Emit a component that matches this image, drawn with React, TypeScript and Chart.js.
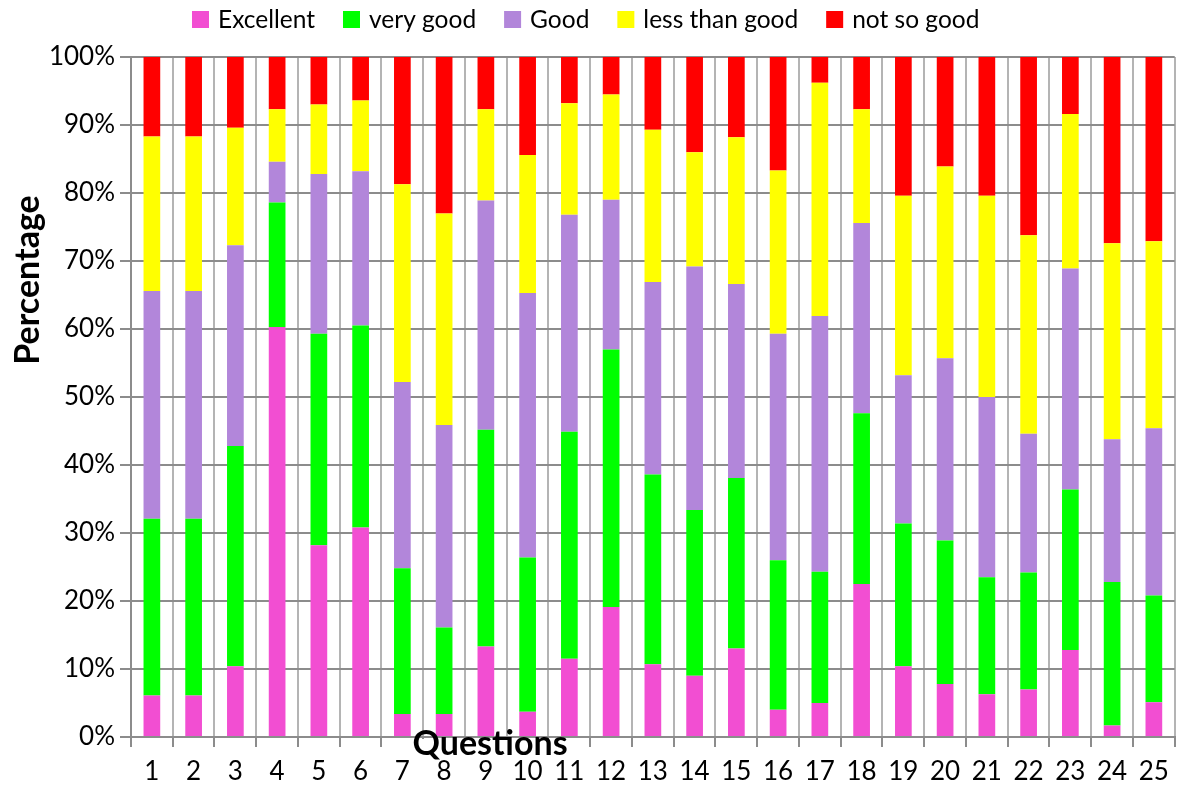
import React, { useEffect, useRef } from "react";
import { Chart, registerables } from "chart.js";

Chart.register(...registerables);

const questions = ["1","2","3","4","5","6","7","8","9","10","11","12","13","14","15","16","17","18","19","20","21","22","23","24","25"];
const excellent = [6.1, 6.1, 10.4, 60.3, 28.2, 30.8, 3.4, 3.4, 13.3, 3.7, 11.5, 19.1, 10.7, 9.0, 13.0, 4.0, 5.0, 22.5, 10.4, 7.8, 6.3, 7.0, 12.8, 1.7, 5.1];
const veryGood = [26.0, 26.0, 32.4, 18.3, 31.1, 29.7, 21.4, 12.7, 31.9, 22.7, 33.4, 37.9, 27.9, 24.4, 25.1, 22.0, 19.3, 25.1, 21.0, 21.1, 17.2, 17.2, 23.6, 21.1, 15.7];
const good = [33.5, 33.5, 29.5, 6.0, 23.5, 22.7, 27.4, 29.8, 33.7, 38.9, 31.9, 22.0, 28.3, 35.8, 28.5, 33.3, 37.6, 28.0, 21.8, 26.8, 26.5, 20.4, 32.5, 21.0, 24.6];
const lessThanGood = [22.7, 22.7, 17.3, 7.7, 10.2, 10.4, 29.1, 31.1, 13.4, 20.3, 16.4, 15.5, 22.4, 16.8, 21.6, 24.0, 34.3, 16.7, 26.4, 28.2, 29.6, 29.2, 22.7, 28.8, 27.5];
const notSoGood = [11.7, 11.7, 10.4, 7.7, 7.0, 6.4, 18.7, 23.0, 7.7, 14.4, 6.8, 5.5, 10.7, 14.0, 11.8, 16.7, 3.8, 7.7, 20.4, 16.1, 20.4, 26.2, 8.4, 27.4, 27.1];

const seriesNames = ["Excellent", "very good", "Good", "less than good", "not so good"];
const seriesColors = ["#F24ED2", "#00FF00", "#B286DA", "#FFFF00", "#FF0000"];
const yTickValues = [0, 10, 20, 30, 40, 50, 60, 70, 80, 90, 100];
const xTitle = "Questions";
const yTitle = "Percentage";

export default function App() {
  const ref = useRef<HTMLCanvasElement>(null);

  useEffect(() => {
    document.body.style.margin = "0";
    const series = [excellent, veryGood, good, lessThanGood, notSoGood];

    const decorations = {
      id: "decorations",
      afterDraw(chart: any) {
        const ctx = chart.ctx;
        const area = chart.chartArea;
        ctx.save();
        // legend
        ctx.font = "24.5px Lato";
        ctx.textBaseline = "middle";
        ctx.textAlign = "left";
        let x = 192;
        seriesNames.forEach((name, i) => {
          ctx.fillStyle = seriesColors[i];
          ctx.fillRect(x, 11, 17, 17);
          ctx.fillStyle = "#000";
          ctx.fillText(name, x + 26, 20);
          x += 26 + ctx.measureText(name).width + 28;
        });
        // x title
        ctx.font = "bold 34px Lato";
        const tx = area.left + (area.right - area.left) * 0.344;
        const tw = ctx.measureText(xTitle).width;
        ctx.fillStyle = "#fff";
        ctx.fillRect(tx - tw / 2 - 2, area.bottom + 2, tw + 4, 10);
        ctx.fillStyle = "#000";
        ctx.textAlign = "center";
        ctx.fillText(xTitle, tx, area.bottom + 7);
        // y title
        ctx.translate(28, 280);
        ctx.rotate(-Math.PI / 2);
        ctx.fillText(yTitle, 0, 0);
        ctx.restore();
      },
    };

    const chart = new Chart(ref.current as HTMLCanvasElement, {
      type: "bar",
      data: {
        labels: questions,
        datasets: series.map((d, i) => ({
          label: seriesNames[i],
          data: d,
          backgroundColor: seriesColors[i],
          borderWidth: 0,
          barPercentage: 0.4,
          categoryPercentage: 1,
        })),
      },
      options: {
        animation: false,
        responsive: true,
        maintainAspectRatio: false,
        layout: { padding: { left: 0, top: 57, right: 3, bottom: 0 } },
        plugins: {
          legend: { display: false },
          tooltip: { enabled: false },
        },
        scales: {
          x: {
            stacked: true,
            afterFit: (s: any) => { s.height = 49; },
            grid: { color: "#b4b4b4", lineWidth: 2, tickColor: "#8c8c8c", tickLength: 10, offset: true },
            border: { color: "#8c8c8c", width: 2 },
            ticks: { color: "#000", font: { family: "Lato", size: 26 }, padding: 9 },
          },
          y: {
            stacked: true,
            min: 0,
            max: 100,
            afterFit: (s: any) => { s.width = 131; },
            afterBuildTicks: (s: any) => { s.ticks = yTickValues.map((v) => ({ value: v })); },
            grid: { color: "#8c8c8c", lineWidth: 2, tickColor: "#8c8c8c", tickLength: 11 },
            border: { color: "#8c8c8c", width: 2 },
            ticks: {
              color: "#000",
              font: { family: "Lato", size: 26 },
              padding: 5,
              callback: (v: any) => v + "%",
            },
          },
        },
      },
      plugins: [decorations],
    });
    return () => chart.destroy();
  }, []);

  return (
    <div style={{ position: "fixed", left: 0, top: 0, width: 1178, height: 786 }}>
      <canvas ref={ref} />
    </div>
  );
}
